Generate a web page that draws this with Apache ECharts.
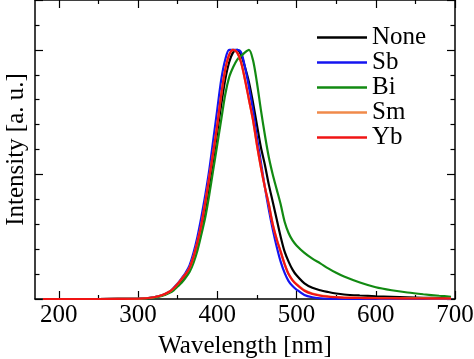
<!DOCTYPE html>
<html>
<head>
<meta charset="utf-8">
<script src="https://cdn.jsdelivr.net/npm/echarts@6/dist/echarts.min.js"></script>
<style>html,body{margin:0;padding:0;background:#fff;}#c{width:474px;height:359px;}</style>
</head>
<body>
<div id="c"></div>
<script>
var wavelength = [180,200,250,300,310,320,330,340,345,350,355,360,365,370,375,380,385,390,395,400,405,410,415,420,425,430,435,440,445,450,455,460,465,470,475,480,485,490,495,500,510,520,530,540,550,560,580,600,620,640,660,680,695];
var none = [0,0,0,0.001,0.003,0.007,0.014,0.028,0.04,0.055,0.073,0.094,0.12,0.16,0.21,0.28,0.36,0.46,0.56,0.67,0.78,0.88,0.95,0.99,1.0,0.98,0.93,0.87,0.79,0.70,0.61,0.54,0.46,0.39,0.32,0.25,0.19,0.15,0.118,0.095,0.063,0.045,0.035,0.028,0.022,0.018,0.014,0.011,0.009,0.007,0.005,0.004,0.003];
var sb = [0,0,0,0.001,0.003,0.007,0.015,0.03,0.045,0.062,0.083,0.105,0.135,0.185,0.25,0.33,0.42,0.52,0.64,0.76,0.88,0.96,1.0,1.0,1.0,0.99,0.93,0.85,0.76,0.65,0.55,0.45,0.36,0.28,0.21,0.15,0.105,0.072,0.052,0.038,0.016,0.007,0.003,0.001,0,0,0,0,0,0,0,0,0];
var bi = [0,0,0,0.001,0.002,0.005,0.012,0.025,0.035,0.05,0.065,0.085,0.108,0.145,0.195,0.26,0.33,0.42,0.52,0.62,0.72,0.82,0.89,0.93,0.96,0.975,0.99,1.0,0.96,0.87,0.76,0.66,0.57,0.50,0.44,0.38,0.31,0.265,0.235,0.215,0.185,0.162,0.143,0.123,0.105,0.09,0.066,0.047,0.035,0.026,0.019,0.013,0.009];
var sm = [0,0,0,0.001,0.003,0.007,0.015,0.03,0.043,0.06,0.08,0.10,0.125,0.17,0.23,0.30,0.39,0.49,0.59,0.70,0.82,0.92,0.98,1.0,0.99,0.95,0.88,0.80,0.72,0.62,0.53,0.45,0.38,0.30,0.24,0.19,0.14,0.10,0.076,0.06,0.035,0.022,0.015,0.011,0.008,0.006,0.005,0.004,0.003,0.003,0.003,0.002,0.002];
var yb = [0,0,0,0.001,0.003,0.007,0.015,0.03,0.043,0.06,0.08,0.10,0.125,0.17,0.23,0.30,0.39,0.49,0.59,0.70,0.82,0.92,0.98,1.0,0.99,0.95,0.88,0.80,0.72,0.62,0.53,0.45,0.38,0.30,0.24,0.19,0.14,0.10,0.075,0.058,0.033,0.02,0.013,0.009,0.007,0.005,0.004,0.003,0.003,0.002,0.002,0.002,0.002];
var seriesNames = ['None','Sb','Bi','Sm','Yb'];
var seriesColors = ['#000000','#1414f0','#128a12','#f08a4a','#f01414'];
var xMajorTicks = [200,300,400,500,600,700];
var xMinorTicks = [250,350,450,550,650];

var font = 'Liberation Serif';
var allData = [none, sb, bi, sm, yb];
function zip(ys){ return wavelength.map(function(x,i){ return [x, ys[i]]; }); }

function xAxisDef(pos, ticks, len, showLine, showLabel, name){
  var a = {
    type:'value', min:170, max:700, position:pos,
    axisLine:{show:showLine, onZero:false, lineStyle:{color:'#000', width:1.5}},
    axisTick:{show:true, inside:true, length:len, customValues:ticks, lineStyle:{color:'#000', width:1.2}},
    axisLabel:{show:showLabel, customValues:ticks, margin:4, color:'#000', fontFamily:font, fontSize:25},
    splitLine:{show:false}
  };
  if(name){
    a.name = name; a.nameLocation='middle'; a.nameGap=35;
    a.nameTextStyle={color:'#000', fontFamily:font, fontSize:25};
  }
  return a;
}
function yAxisDef(pos, name){
  var a = {
    type:'value', min:0, max:1.2, interval:0.5, position:pos,
    axisLine:{show:true, onZero:false, lineStyle:{color:'#000', width:1.5}},
    axisTick:{show:true, inside:true, length:8, lineStyle:{color:'#000', width:1.2}},
    minorTick:{show:true, splitNumber:5, length:4.5, lineStyle:{color:'#000', width:1.2}},
    axisLabel:{show:false},
    splitLine:{show:false}, minorSplitLine:{show:false}
  };
  if(name){
    a.name = name; a.nameLocation='middle'; a.nameGap=6;
    a.nameTextStyle={color:'#000', fontFamily:font, fontSize:25};
  }
  return a;
}

var chart = echarts.init(document.getElementById('c'), null, {renderer:'canvas'});
chart.setOption({
  animation:false,
  backgroundColor:'#fff',
  grid:{left:35, right:19, top:0, bottom:60, containLabel:false, outerBoundsMode:'none'},
  legend:{
    orient:'vertical', left:317, top:25, padding:0, itemGap:0, itemWidth:50, itemHeight:2.5,
    icon:'rect',
    textStyle:{color:'#000', fontFamily:font, fontSize:25, lineHeight:25},
    data:seriesNames
  },
  xAxis:[
    xAxisDef('bottom', xMajorTicks, 8, true, true, 'Wavelength [nm]'),
    xAxisDef('bottom', xMinorTicks, 4, false, false),
    xAxisDef('top', xMajorTicks, 8, true, false),
    xAxisDef('top', xMinorTicks, 4, false, false)
  ],
  yAxis:[ yAxisDef('left', 'Intensity [a. u.]'), yAxisDef('right') ],
  series: seriesNames.map(function(n,i){
    return {
      name:n, type:'line', xAxisIndex:0, yAxisIndex:0,
      data: zip(allData[i]), smooth:0.3, showSymbol:false, symbol:'none',
      lineStyle:{color:seriesColors[i], width:2.2}, itemStyle:{color:seriesColors[i]}
    };
  })
});
</script>
</body>
</html>
